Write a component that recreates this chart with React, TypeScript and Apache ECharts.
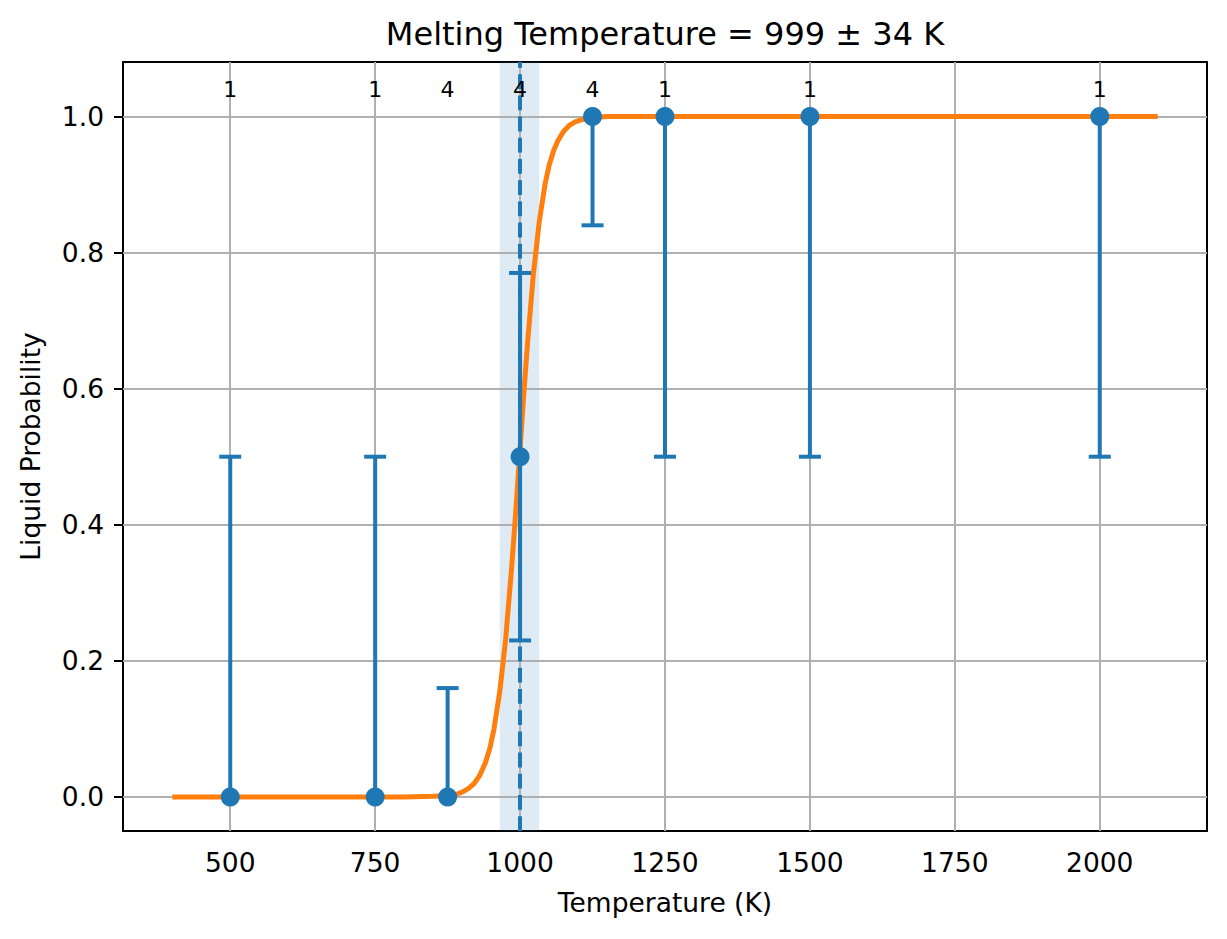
import React, { useEffect, useRef } from "react";
import * as echarts from "echarts";

// ---- data ----
const pointT = [500, 750, 875, 1000, 1125, 1250, 1500, 2000];
const pointP = [0, 0, 0, 0.5, 1, 1, 1, 1];
const errLow = [0, 0, 0, 0.23, 0.84, 0.5, 0.5, 0.5];
const errHigh = [0.5, 0.5, 0.16, 0.77, 1, 1, 1, 1];
const counts = [1, 1, 4, 4, 4, 1, 1, 1];

const curveT = [400, 800, 850, 875, 890, 900, 910, 920, 930, 940, 948, 955, 965, 975, 985, 992, 999, 1006, 1013, 1023, 1033, 1043, 1050, 1058, 1065, 1075, 1085, 1095, 1105, 1120, 1150, 1200, 2100];
const curveP = [0, 0, 0.001, 0.002, 0.004, 0.007, 0.012, 0.019, 0.031, 0.05, 0.072, 0.1, 0.155, 0.231, 0.332, 0.413, 0.5, 0.587, 0.668, 0.769, 0.845, 0.9, 0.928, 0.95, 0.964, 0.978, 0.987, 0.992, 0.995, 0.998, 1, 1, 1];

const meltT = 999;
const meltErr = 34;

const xTicks = [500, 750, 1000, 1250, 1500, 1750, 2000];
const yTicks = [0, 0.2, 0.4, 0.6, 0.8, 1.0];
const xMin = 315;
const xMax = 2185;
const yMin = -0.05;
const yMax = 1.08;
const countLabelY = 1.039;

const titleText = "Melting Temperature = " + meltT + " ± " + meltErr + " K";

const BLUE = "#1f77b4";
const ORANGE = "#ff7f0e";
const GRID = "#b0b0b0";
const FONT = "DejaVu Sans";

export default function App() {
  const ref = useRef<HTMLDivElement>(null);

  useEffect(() => {
    if (!ref.current) return;
    const chart = echarts.init(ref.current, undefined, { renderer: "svg" });

    const gridLeft = 123;
    const gridTop = 62;
    const gridW = 1084;
    const gridH = 769;
    const cx = gridLeft + gridW / 2;
    const cy = gridTop + gridH / 2;

    const option: any = {
      animation: false,
      backgroundColor: "#ffffff",
      textStyle: { fontFamily: FONT },
      grid: {
        left: gridLeft,
        top: gridTop,
        width: gridW,
        height: gridH,
        show: true,
        borderColor: "#000000",
        borderWidth: 2,
        backgroundColor: "transparent",
        containLabel: false,
      },
      graphic: [
        {
          type: "text",
          x: cx,
          y: 34,
          style: {
            text: titleText,
            font: "32px " + FONT,
            fill: "#000",
            align: "center",
            verticalAlign: "middle",
          },
        },
        {
          type: "text",
          x: cx,
          y: 902,
          style: {
            text: "Temperature (K)",
            font: "26.5px " + FONT,
            fill: "#000",
            align: "center",
            verticalAlign: "middle",
          },
        },
        {
          type: "text",
          x: 30,
          y: cy,
          rotation: Math.PI / 2,
          style: {
            text: "Liquid Probability",
            font: "26.5px " + FONT,
            fill: "#000",
            align: "center",
            verticalAlign: "middle",
          },
        },
      ],
      xAxis: {
        type: "value",
        min: xMin,
        max: xMax,
        axisLine: { show: true, lineStyle: { color: "#000", width: 2 } },
        axisTick: {
          show: true,
          customValues: xTicks,
          length: 9,
          inside: false,
          lineStyle: { color: "#000", width: 2 },
        },
        axisLabel: {
          show: true,
          customValues: xTicks,
          margin: 18,
          fontSize: 26.5,
          fontFamily: FONT,
          color: "#000",
          formatter: (v: number) => String(v),
        },
        splitLine: { show: false },
      },
      yAxis: {
        type: "value",
        min: yMin,
        max: yMax,
        axisLine: { show: true, lineStyle: { color: "#000", width: 2 } },
        axisTick: {
          show: true,
          customValues: yTicks,
          length: 9,
          inside: false,
          lineStyle: { color: "#000", width: 2 },
        },
        axisLabel: {
          show: true,
          customValues: yTicks,
          margin: 19,
          fontSize: 26.5,
          fontFamily: FONT,
          color: "#000",
          formatter: (v: number) => v.toFixed(1),
        },
        splitLine: { show: false },
      },
      series: [
        {
          name: "band",
          type: "line",
          data: [],
          z: 1,
          silent: true,
          markArea: {
            z: 1,
            silent: true,
            itemStyle: { color: "rgba(31,119,180,0.15)" },
            data: [[{ xAxis: meltT - meltErr }, { xAxis: meltT + meltErr }]],
          },
        },
        {
          name: "grid",
          type: "line",
          data: [],
          z: 2,
          silent: true,
          markLine: {
            z: 2,
            silent: true,
            symbol: ["none", "none"],
            label: { show: false },
            lineStyle: { color: GRID, width: 2, type: "solid" },
            data: [
              ...xTicks.map((v) => ({ xAxis: v })),
              ...yTicks.map((v) => ({ yAxis: v })),
            ],
          },
        },
        {
          name: "fit",
          type: "line",
          z: 3,
          showSymbol: false,
          symbol: "none",
          data: curveT.map((t, i) => [t, curveP[i]]),
          lineStyle: { color: ORANGE, width: 5 },
          itemStyle: { color: ORANGE },
        },
        {
          name: "melt",
          type: "line",
          data: [],
          z: 4,
          silent: true,
          markLine: {
            z: 4,
            silent: true,
            symbol: ["none", "none"],
            label: { show: false },
            lineStyle: { color: BLUE, width: 4, type: [14.8, 6.4] },
            data: [{ xAxis: meltT }],
          },
        },
        {
          name: "errors",
          type: "custom",
          z: 5,
          silent: true,
          data: pointT.map((t, i) => [t, errLow[i], errHigh[i], pointP[i]]),
          encode: { x: 0, y: [1, 2] },
          renderItem: (params: any, api: any) => {
            const x = api.value(0);
            const lo = api.value(1);
            const hi = api.value(2);
            const p = api.value(3);
            const a = api.coord([x, lo]);
            const b = api.coord([x, hi]);
            const cap = 11;
            const style = { stroke: BLUE, lineWidth: 4 };
            const children: any[] = [
              { type: "line", shape: { x1: a[0], y1: a[1], x2: b[0], y2: b[1] }, style },
            ];
            if (p - lo > 0) {
              children.push({
                type: "line",
                shape: { x1: a[0] - cap, y1: a[1], x2: a[0] + cap, y2: a[1] },
                style,
              });
            }
            if (hi - p > 0) {
              children.push({
                type: "line",
                shape: { x1: b[0] - cap, y1: b[1], x2: b[0] + cap, y2: b[1] },
                style,
              });
            }
            return { type: "group", children };
          },
        },
        {
          name: "points",
          type: "scatter",
          z: 6,
          symbol: "circle",
          symbolSize: 19,
          itemStyle: { color: BLUE, opacity: 1 },
          data: pointT.map((t, i) => [t, pointP[i]]),
        },
        {
          name: "counts",
          type: "custom",
          z: 7,
          silent: true,
          clip: false,
          data: pointT.map((t, i) => [t, countLabelY, counts[i]]),
          encode: { x: 0, y: 1 },
          renderItem: (params: any, api: any) => {
            const pt = api.coord([api.value(0), api.value(1)]);
            return {
              type: "text",
              x: pt[0],
              y: pt[1],
              style: {
                text: String(api.value(2)),
                font: "22px " + FONT,
                fill: "#000000",
                align: "center",
                verticalAlign: "middle",
              },
            };
          },
        },
      ],
    };

    chart.setOption(option);
    return () => {
      chart.dispose();
    };
  }, []);

  return (
    <div
      ref={ref}
      style={{ position: "fixed", left: 0, top: 0, width: 1227, height: 939, background: "#fff" }}
    />
  );
}
